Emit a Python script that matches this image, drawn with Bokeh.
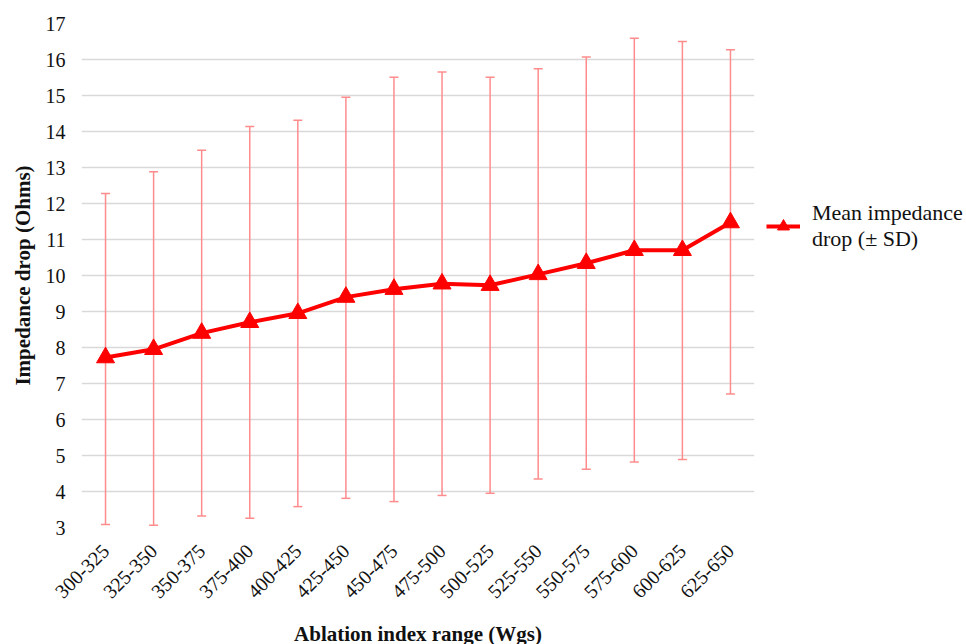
from bokeh.plotting import figure
from bokeh.models import ColumnDataSource, Whisker, TeeHead, Legend, LegendItem
from bokeh.embed import file_html
from bokeh.resources import INLINE
import math

categories = ["300-325", "325-350", "350-375", "375-400", "400-425", "425-450", "450-475",
              "475-500", "500-525", "525-550", "550-575", "575-600", "600-625", "625-650"]
mean_drop = [7.72, 7.95, 8.40, 8.70, 8.95, 9.40, 9.62, 9.77, 9.73, 10.03, 10.34, 10.70, 10.70, 11.47]
upper_sd = [12.28, 12.88, 13.48, 14.14, 14.31, 14.95, 15.51, 15.65, 15.51, 15.74, 16.07, 16.59, 16.50, 16.27]
lower_sd = [3.08, 3.06, 3.32, 3.26, 3.58, 3.81, 3.72, 3.89, 3.95, 4.35, 4.62, 4.82, 4.89, 6.71]
y_ticks = list(range(3, 18))

src = ColumnDataSource(dict(x=categories, y=mean_drop, upper=upper_sd, lower=lower_sd))

p = figure(x_range=categories, y_range=(3, 17.0), frame_width=673, frame_height=504,
           output_backend="svg", toolbar_location=None,
           min_border_left=81, min_border_right=10, min_border_top=23, min_border_bottom=100)
p.outline_line_color = None
p.background_fill_color = "white"
p.border_fill_color = "white"

serif = "Liberation Serif"

p.xgrid.grid_line_color = None
p.ygrid.grid_line_color = "#d9d9d9"
p.ygrid.grid_line_width = 1.5

p.yaxis.ticker = y_ticks
for ax in (p.xaxis[0], p.yaxis[0]):
    ax.axis_line_color = None
    ax.major_tick_line_color = None
    ax.minor_tick_line_color = None
    ax.major_label_text_font = serif
    ax.major_label_text_font_size = "20px"
    ax.major_label_text_color = "#111111"
    ax.axis_label_text_font = serif
    ax.axis_label_text_font_style = "bold"
    ax.axis_label_text_font_size = "21px"
    ax.axis_label_text_color = "#111111"

p.yaxis.axis_label = "Impedance drop (Ohms)"
p.xaxis.axis_label = "Ablation index range (Wgs)"
p.xaxis.major_label_orientation = math.pi / 4
p.yaxis.major_label_standoff = 10
p.yaxis.axis_label_standoff = 8
p.xaxis.major_label_standoff = 14
p.xaxis.axis_label_standoff = 14

whisk = Whisker(source=src, base="x", upper="upper", lower="lower",
                line_color="#ff8c8c", line_width=1.5,
                upper_head=TeeHead(size=9, line_color="#ff8c8c", line_width=1.5),
                lower_head=TeeHead(size=9, line_color="#ff8c8c", line_width=1.5))
p.add_layout(whisk)

ln = p.line("x", "y", source=src, line_color="#ff0000", line_width=4)
mk = p.scatter("x", "y", source=src, marker="triangle", size=18,
               fill_color="#ff0000", line_color="#ff0000")

legend = Legend(items=[LegendItem(label="Mean impedance\ndrop (± SD)", renderers=[ln, mk])],
                location=(12, 275), border_line_color=None, background_fill_alpha=0,
                label_text_font=serif, label_text_font_size="22px",
                label_text_color="#111111", glyph_width=34, glyph_height=30,
                label_standoff=12, padding=4)
p.add_layout(legend, "right")

open("out.html", "w").write(file_html(p, INLINE))
